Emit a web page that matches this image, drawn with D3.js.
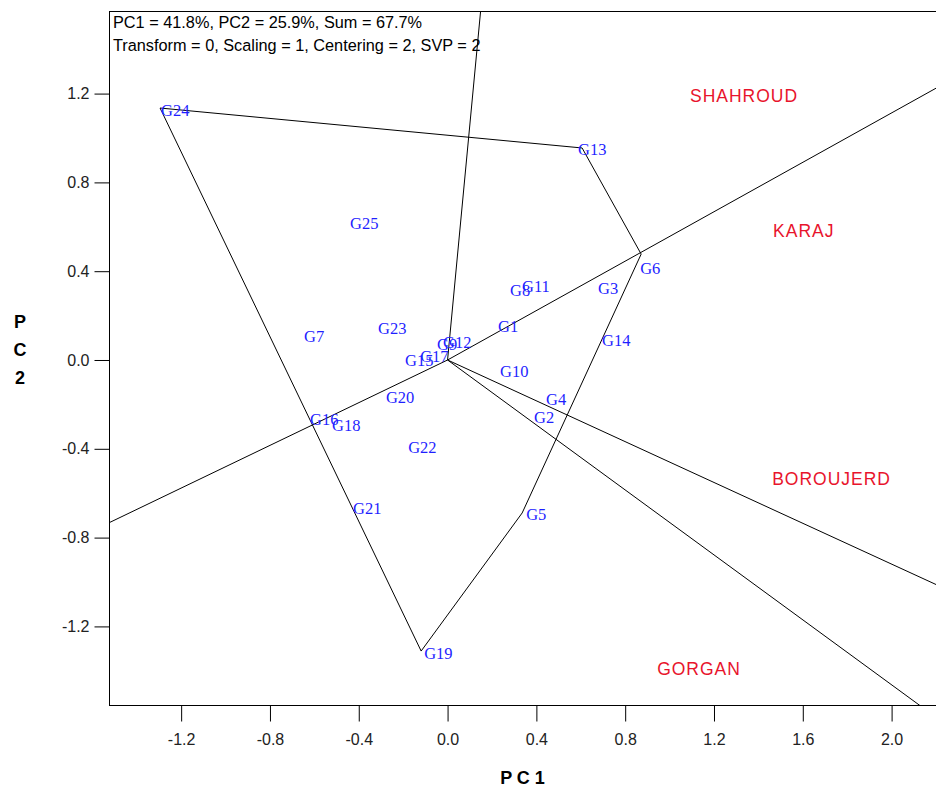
<!DOCTYPE html>
<html><head><meta charset="utf-8">
<script src="https://cdn.jsdelivr.net/npm/d3@7"></script>
<style>body{margin:0;background:#fff}</style>
</head><body><svg id="c" width="936" height="791"></svg>
<script>
// ---- data ----
const genotypes = ["G1","G2","G3","G4","G5","G6","G7","G8","G9","G10","G11","G12","G13","G14","G15","G16","G17","G18","G19","G20","G21","G22","G23","G24","G25"];
const pc1 = [0.223,0.385,0.673,0.439,0.336,0.872,-0.651,0.277,-0.052,0.232,0.331,-0.025,0.606,0.691,-0.196,-0.624,-0.128,-0.525,-0.119,-0.282,-0.430,-0.182,-0.318,-1.295,-0.444];
const pc2 = [0.162,-0.252,0.333,-0.167,-0.689,0.477,0.117,0.324,0.081,-0.041,0.338,0.086,0.955,0.099,0.009,-0.257,0.023,-0.284,-1.311,-0.158,-0.662,-0.387,0.153,1.135,0.622];
const hullOrder = ["G24","G13","G6","G5","G19"];
const environments = ["SHAHROUD","KARAJ","BOROUJERD","GORGAN"];
const envPC1 = [1.092,1.466,1.462,0.944];
const envPC2 = [1.189,0.581,-0.536,-1.392];
const xTicks = [-1.2,-0.8,-0.4,0.0,0.4,0.8,1.2,1.6,2.0];
const yTicks = [-1.2,-0.8,-0.4,0.0,0.4,0.8,1.2];
const infoLines = ["PC1 = 41.8%, PC2 = 25.9%, Sum = 67.7%","Transform = 0, Scaling = 1, Centering = 2, SVP = 2"];
const xTitle = "P C 1";
const yTitle = ["P","C","2"];

// ---- layout ----
const L = 109, R = 936, T = 11, B = 705;
const svg = d3.select("#c");
const x = d3.scaleLinear().domain([-1.525, 2.2]).range([L, R]);
const y = d3.scaleLinear().domain([-1.554, 1.572]).range([B, T]);
const labelNudge = {G6: [-2, 12], G13: [-5, 0], G5: [3, 0], G19: [2, 0]};

const sans = "'Liberation Sans', Arial, sans-serif";
const serif = "'Liberation Serif', 'Times New Roman', serif";

svg.append("defs").append("clipPath").attr("id","pc")
  .append("rect").attr("x",L).attr("y",T).attr("width",R-L).attr("height",B-T);

const plot = svg.append("g").attr("clip-path","url(#pc)");

const pts = genotypes.map((g,i)=>({name:g, px:pc1[i], py:pc2[i]}));
const byName = Object.fromEntries(pts.map(p=>[p.name,p]));
const hull = hullOrder.map(n=>byName[n]);

// polygon
plot.append("path")
  .attr("d", d3.line().x(d=>x(d.px)).y(d=>y(d.py)).curve(d3.curveLinearClosed)(hull))
  .attr("fill","none").attr("stroke","#000").attr("stroke-width",1);

// perpendicular rays from origin to each hull edge
hull.forEach((a,i)=>{
  const b = hull[(i+1)%hull.length];
  const dx = b.px-a.px, dy = b.py-a.py;
  const t = -(a.px*dx + a.py*dy)/(dx*dx+dy*dy);
  const fx = a.px + t*dx, fy = a.py + t*dy;
  const k = 10/Math.hypot(fx,fy);
  plot.append("line")
    .attr("x1",x(0)).attr("y1",y(0))
    .attr("x2",x(fx*k)).attr("y2",y(fy*k))
    .attr("stroke","#000").attr("stroke-width",1);
});

// genotype labels
const nx = d=>labelNudge[d.name]?labelNudge[d.name][0]:0;
const ny = d=>labelNudge[d.name]?labelNudge[d.name][1]:0;
plot.selectAll("text.g").data(pts).join("text")
  .attr("class","g")
  .attr("x",d=>x(d.px)+1+nx(d))
  .attr("y",d=>y(d.py)+2+ny(d))
  .attr("dominant-baseline","central")
  .attr("font-family",serif).attr("font-size",16.5)
  .attr("fill","#1f1fff")
  .text(d=>d.name);

// environment labels
plot.selectAll("text.e").data(environments).join("text")
  .attr("class","e")
  .attr("x",(d,i)=>x(envPC1[i]))
  .attr("y",(d,i)=>y(envPC2[i]))
  .attr("dominant-baseline","central")
  .attr("font-family",sans).attr("font-size",17.5)
  .attr("letter-spacing",1)
  .attr("fill","#e8142c")
  .text(d=>d);

// frame
svg.append("rect").attr("x",L+0.5).attr("y",T+0.5).attr("width",R-L).attr("height",B-T)
  .attr("fill","none").attr("stroke","#000").attr("stroke-width",1);

// axes
const f1 = d3.format(".1f");
const fmt = v=>f1(v).replace("\u2212","-");
const gx = svg.append("g").attr("transform",`translate(0,${B+0.5})`)
  .call(d3.axisBottom(x).tickValues(xTicks).tickFormat(fmt).tickSize(16).tickPadding(12));
const gy = svg.append("g").attr("transform",`translate(${L+0.5},0)`)
  .call(d3.axisLeft(y).tickValues(yTicks).tickFormat(fmt).tickSize(15).tickPadding(5));
[gx,gy].forEach(g=>{
  g.select(".domain").remove();
  g.selectAll("line").attr("stroke","#000");
  g.selectAll("text").attr("font-family",sans).attr("font-size",16).attr("fill","#222");
});

// titles
svg.append("text").attr("x",(L+R)/2).attr("y",778).attr("text-anchor","middle")
  .attr("dominant-baseline","central").attr("font-family",sans).attr("font-weight","bold")
  .attr("font-size",18).attr("fill","#000").text(xTitle);
svg.selectAll("text.yt").data(yTitle).join("text").attr("class","yt")
  .attr("x",20).attr("y",(d,i)=>322+i*28).attr("text-anchor","middle")
  .attr("dominant-baseline","central").attr("font-family",sans).attr("font-weight","bold")
  .attr("font-size",18).attr("fill","#000").text(d=>d);

// info text
svg.selectAll("text.info").data(infoLines).join("text").attr("class","info")
  .attr("x",113).attr("y",(d,i)=>22+i*23)
  .attr("dominant-baseline","central").attr("font-family",sans)
  .attr("font-size",16.3).attr("fill","#000").text(d=>d);
</script></body></html>
